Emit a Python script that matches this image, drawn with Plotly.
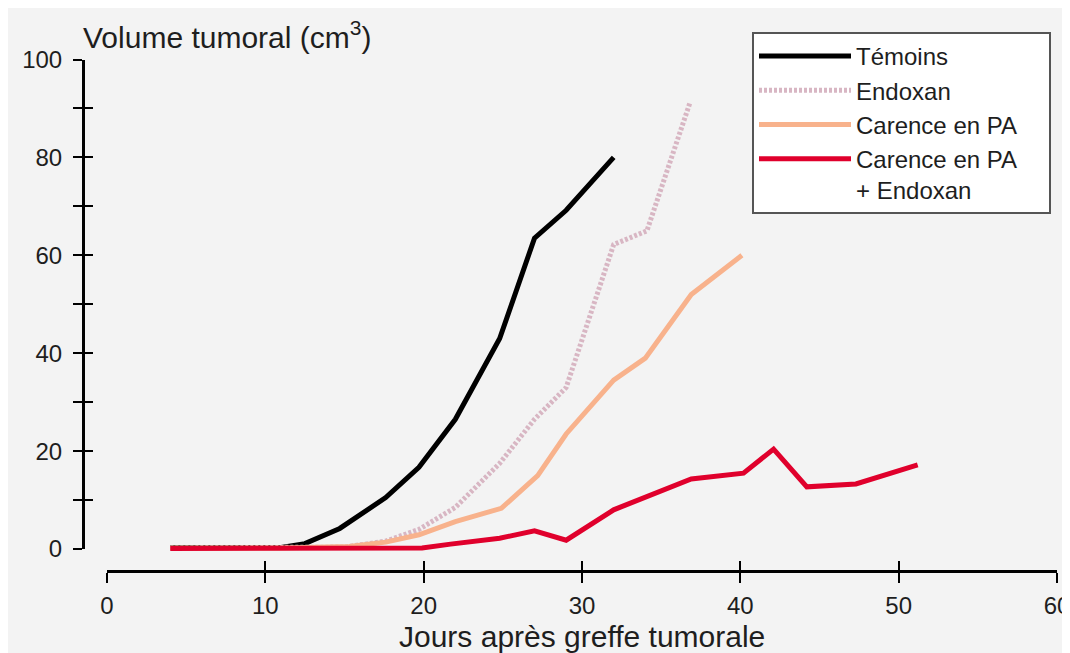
import plotly.graph_objects as go

# ---- data ----
days_temoins = [4, 11, 12.5, 14.7, 17.6, 19.7, 22, 24.8, 27, 29, 32]
vol_temoins = [0.3, 0.3, 1.1, 4.2, 10.5, 16.7, 26.5, 43, 63.5, 69.2, 80]

days_endoxan = [4, 11, 15, 17.6, 19.7, 22, 24.8, 27, 29, 32, 34.1, 36.8]
vol_endoxan = [0.2, 0.2, 0.4, 1.6, 4, 8.5, 17.5, 26.5, 33, 62.2, 65, 91]

days_carence = [4, 11, 15.3, 17.6, 19.7, 22, 24.9, 27.2, 29, 32, 34, 36.9, 40.1]
vol_carence = [0.2, 0.2, 0.5, 1.4, 2.9, 5.6, 8.3, 15, 23.5, 34.5, 39, 52, 60]

days_car_endo = [4, 11, 19.9, 21.7, 24.8, 27, 29, 32, 34, 36.9, 40.2, 42.1, 44.2, 47.3, 51.2]
vol_car_endo = [0.1, 0.1, 0.2, 1.0, 2.2, 3.7, 1.8, 8.0, 10.6, 14.3, 15.5, 20.4, 12.7, 13.3, 17.2]

NB = "\u00a0"
series_names = ["Témoins", "Endoxan", "Carence en PA" + NB * 4, "Carence en PA<br>+ Endoxan"]

x_tickvals = [0, 10, 20, 30, 40, 50, 60]
x_ticktext = ["0", "10", "20", "30", "40", "50", "60"]
y_tickvals = [0, 20, 40, 60, 80, 100]
y_ticktext = ["0", "20", "40", "60", "80", "100"]
y_minorvals = [10, 30, 50, 70, 90]

x_title = "Jours après greffe tumorale"
y_title = "Volume tumoral (cm<sup>3</sup>)"

# ---- geometry: the figure sits in the page at (OX, OY) (body margin) ----
OX, OY = 8, 8
W, H = 1070 - OX, 653 - OY

def fx(px):          # page x -> paper fraction
    return (px - OX) / W

def fy(py):          # page y -> paper fraction
    return (OY + H - py) / H

X_MIN, X_MAX = 0, 60
Y_MIN, Y_MAX = 0, 100
xd = [fx(107), fx(1057)]
yd = [fy(549), fy(59.5)]

def extend(lo, hi, d):
    span = (hi - lo) / (d[1] - d[0])
    return [lo - d[0] * span, hi + (1 - d[1]) * span]

FONT = "Liberation Sans, Arial, Helvetica, sans-serif"
TXT = "#1e1e1e"

fig = go.Figure()
colors = ["#000000", "#d8b6c3", "#f8b28c", "#e0002c"]
dashes = ["solid", "3px,2px", "solid", "solid"]
xs = [days_temoins, days_endoxan, days_carence, days_car_endo]
ys = [vol_temoins, vol_endoxan, vol_carence, vol_car_endo]
for name, x, y, c, d in zip(series_names, xs, ys, colors, dashes):
    fig.add_trace(go.Scatter(x=x, y=y, mode="lines", name=name,
                             line=dict(color=c, width=5, dash=d),
                             xaxis="x", yaxis="y", hoverinfo="skip"))

fig.add_trace(go.Scatter(x=[None], y=[None], xaxis="x2", yaxis="y2", showlegend=False, hoverinfo="skip"))
fig.add_trace(go.Scatter(x=[None], y=[None], xaxis="x3", yaxis="y3", showlegend=False, hoverinfo="skip"))

tickfont = dict(family=FONT, size=24, color=TXT)
common = dict(automargin=False, showgrid=False, zeroline=False, fixedrange=True)

fig.update_layout(
    width=W, height=H,
    margin=dict(l=0, r=0, t=0, b=0, pad=0, autoexpand=False),
    paper_bgcolor="#f3f3f3",
    plot_bgcolor="rgba(0,0,0,0)",
    showlegend=True,
    hovermode=False,
    xaxis=dict(domain=[0, 1], range=extend(X_MIN, X_MAX, xd), visible=False, **common),
    yaxis=dict(domain=[0, 1], range=extend(Y_MIN, Y_MAX, yd), visible=False, **common),
    xaxis2=dict(domain=xd, range=[X_MIN, X_MAX], anchor="free", position=fy(571),
                showline=True, linecolor="black", linewidth=3,
                ticks="outside", ticklen=10, tickwidth=1.5, tickcolor="black",
                tickvals=x_tickvals, ticktext=x_ticktext, tickfont=tickfont,
                ticklabelstandoff=2, ticklabeloverflow="allow", **common),
    xaxis3=dict(range=[X_MIN, X_MAX], overlaying="x2", anchor="free", position=fy(571),
                showline=False,
                ticks="inside", ticklen=10, tickwidth=1.5, tickcolor="black",
                tickvals=x_tickvals, showticklabels=False, **common),
    yaxis2=dict(domain=yd, range=[Y_MIN, Y_MAX], anchor="free", position=fx(83),
                showline=True, linecolor="black", linewidth=3,
                ticks="outside", ticklen=9, tickwidth=1.5, tickcolor="black",
                tickvals=y_tickvals, ticktext=y_ticktext, tickfont=tickfont,
                ticklabelstandoff=6,
                minor=dict(tickmode="array", tickvals=y_minorvals, ticks="outside",
                           ticklen=9, tickwidth=1.5, tickcolor="black", showgrid=False),
                **common),
    yaxis3=dict(range=[Y_MIN, Y_MAX], overlaying="y2", anchor="free", position=fx(83),
                showline=False,
                ticks="inside", ticklen=9, tickwidth=1.5, tickcolor="black",
                tickvals=y_tickvals + y_minorvals, showticklabels=False, **common),
    legend=dict(x=fx(752), y=fy(32), xanchor="left", yanchor="top",
                bgcolor="white", bordercolor="#555555", borderwidth=2,
                font=dict(family=FONT, size=24, color=TXT),
                itemwidth=92, tracegroupgap=0, valign="top"),
    annotations=[
        dict(text=y_title, xref="paper", yref="paper", x=fx(81), y=fy(35),
             xanchor="left", yanchor="middle", showarrow=False,
             font=dict(family=FONT, size=30, color=TXT)),
        dict(text=x_title, xref="paper", yref="paper", x=fx(582), y=fy(636),
             xanchor="center", yanchor="middle", showarrow=False,
             font=dict(family=FONT, size=30, color=TXT)),
    ],
)

fig.write_html("out.html", config={"displayModeBar": False})
